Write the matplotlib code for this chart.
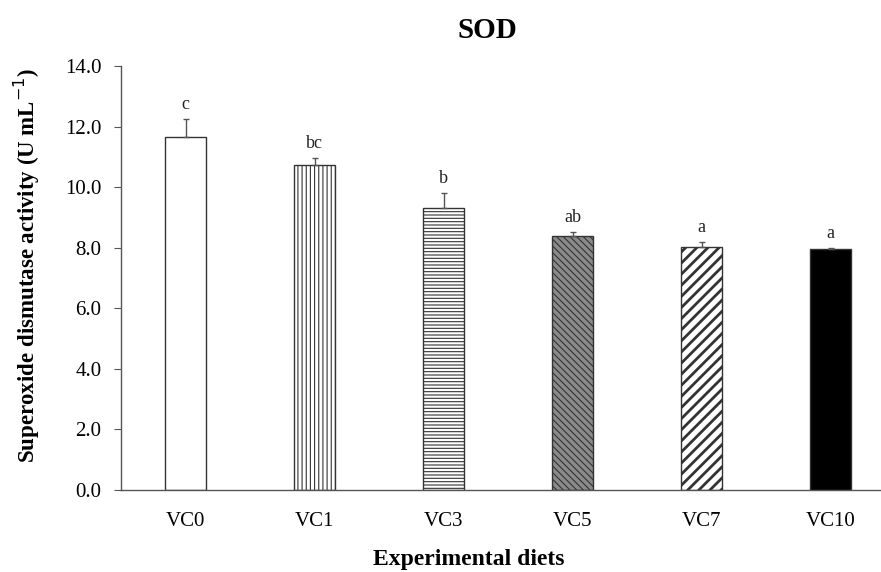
import matplotlib
matplotlib.use("Agg")
import matplotlib.pyplot as plt
import numpy as np

categories = ["VC0", "VC1", "VC3", "VC5", "VC7", "VC10"]
means = [11.65, 10.73, 9.31, 8.38, 8.02, 7.95]
errors = [0.60, 0.23, 0.49, 0.13, 0.16, 0.04]
letters = ["c", "bc", "b", "ab", "a", "a"]
y_ticks = [0, 2, 4, 6, 8, 10, 12, 14]

plt.rcParams['font.family'] = ['Liberation Serif', 'DejaVu Serif']

fig = plt.figure(figsize=(8.81, 5.72), dpi=100)
ax = fig.add_axes([121 / 881, 82 / 572, 774 / 881, 424 / 572])

x = np.arange(len(categories))
facecolors = ["white", "white", "white", "#8a8a8a", "white", "black"]
hatches = [None, "||||", "-----", "\\\\\\\\\\", "///", None]
hlw = [1.0, 0.8, 0.8, 0.8, 2.0, 1.0]

bars = ax.bar(x, means, width=0.32, color=facecolors, edgecolor="#333333",
              linewidth=1.0, zorder=2)
for b, h, lw in zip(bars, hatches, hlw):
    if h:
        b.set_hatch(h)
        try:
            b.set_hatch_linewidth(lw)
        except Exception:
            pass

ax.errorbar(x, means, yerr=[np.zeros(len(means)), errors], fmt="none",
            ecolor="#555555", elinewidth=1.0, capsize=2.5, capthick=1.0, zorder=3)

for xi, m, e, l in zip(x, means, errors, letters):
    ax.text(xi, m + e + 0.2, l, ha="center", va="bottom", fontsize=13,
            color="#222222")

ax.set_xlim(-0.5, 5.5)
ax.set_ylim(0, 14)
ax.set_yticks(y_ticks)
ax.set_yticklabels([f"{v:.1f}" for v in y_ticks], fontsize=15)
ax.set_xticks(x)
ax.set_xticklabels(categories, fontsize=15)
ax.tick_params(axis="x", length=0, pad=16)
ax.tick_params(axis="y", direction="out", length=5, color="#555555", pad=9)

for s in ["top", "right"]:
    ax.spines[s].set_visible(False)
for s in ["left", "bottom"]:
    ax.spines[s].set_color("#555555")
    ax.spines[s].set_linewidth(1.0)

ax.set_ylabel("Superoxide dismutase activity (U mL$^{-1}$)", fontsize=16.5,
              fontweight="bold", va="center")
ax.yaxis.set_label_coords((27 - 121) / 774, 0.53)
fig.text(487 / 881, 1 - 31 / 572, "SOD", ha="center", va="center",
         fontsize=21, fontweight="bold")
fig.text(469 / 881, 1 - 559 / 572, "Experimental diets", ha="center",
         va="center", fontsize=17, fontweight="bold")

fig.savefig("out.png", dpi=100)
